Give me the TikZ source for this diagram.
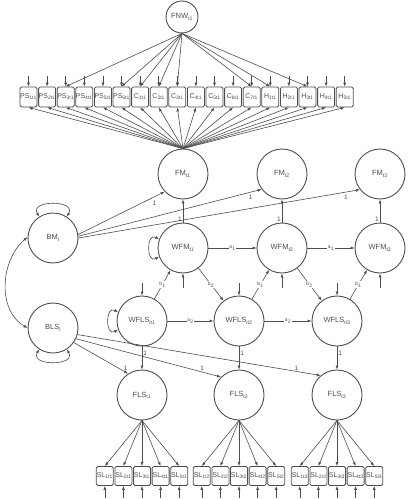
\documentclass[tikz,border=0pt]{standalone}
\usepackage{fontspec}
\setmainfont{Liberation Sans}
\usetikzlibrary{arrows.meta}

\definecolor{ink}{HTML}{4D4D4D}

\tikzset{
  latent/.style={circle,draw=ink,line width=0.9pt,minimum size=50pt,inner sep=0pt,
    text=ink,font=\fontsize{7.5}{8}\selectfont},
  indicator/.style={draw=ink,line width=0.8pt,rounded corners=1.5pt,minimum width=17pt,
    minimum height=20pt,inner sep=0pt,text=ink,font=\fontsize{7}{8}\selectfont},
  arr/.style={draw=ink,line width=0.6pt,-{Latex[length=4pt,width=3pt]}},
  dbl/.style={draw=ink,line width=0.6pt,{Latex[length=4pt,width=3pt]}-{Latex[length=4pt,width=3pt]}},
  coef/.style={text=ink,font=\fontsize{6.5}{7}\selectfont,inner sep=1pt},
  param/.style={text=ink,font=\fontsize{5}{6}\selectfont,fill=white,inner sep=0.5pt},
}

\begin{document}
\begin{tikzpicture}[x=1pt,y=-1pt]
  \useasboundingbox (0,0) rectangle (407,500);

  % latent variables
  \node[latent,minimum size=32pt] (fnw) at (182,17) {FNW\textsubscript{t1}};
  \foreach \t/\x in {1/183,2/282,3/380} {
    \node[latent] (fm\t) at (\x,174) {FM\textsubscript{t\t}};
    \node[latent] (wfm\t) at (\x,248) {WFM\textsubscript{t\t}};
    \coordinate (ewfm\t) at (\x,288);
    \draw[arr] (ewfm\t) -- (wfm\t);
  }
  \foreach \t/\x in {1/142,2/239,3/337} {
    \node[latent] (wfls\t) at (\x,321) {WFLS\textsubscript{it\t}};
    \node[latent] (fls\t) at (\x,395) {FLS\textsubscript{t\t}};
    \coordinate (ewfls\t) at (\x,283);
    \draw[arr] (ewfls\t) -- (wfls\t);
  }
  \node[latent] (bm) at (53,238) {BM\textsubscript{i}};
  \node[latent] (bls) at (53,328) {BLS\textsubscript{i}};

  % indicators of FNW and FM
  \foreach \v/\n [count=\i] in {PS/1,PS/2,PS/3,PS/4,PS/5,PS/6,C/1,C/2,C/3,C/4,C/5,C/6,C/7,H/1,H/2,H/3,H/4,H/5} {
    \node[indicator] (ind\i) at ({28.5+18.6*(\i-1)},97) {\v\textsubscript{\n t1}};
    \coordinate (eind\i) at ({28.5+18.6*(\i-1)},76);
    \draw[arr] (eind\i) -- (ind\i);
    \draw[arr] (fm1.north) -- (ind\i.south);
  }
  \foreach \i in {3,6,7,8,9,13,14,16}
    \draw[arr] (fnw.south) -- (ind\i.north);

  % indicators of FLS
  \foreach \t/\x in {1/142,2/239,3/337} {
    \foreach \j in {1,...,5} {
      \node[indicator,minimum height=19pt] (sl\t\j) at ({\x+18.6*(\j-3)},476) {SL\textsubscript{\j t\t}};
      \coordinate (esl\t\j) at ({\x+18.6*(\j-3)},498);
      \draw[arr] (esl\t\j) -- (sl\t\j);
      \draw[arr] (fls\t.south) -- (sl\t\j.north);
    }
  }

  % within-level paths
  \foreach \s/\t in {1/2,2/3} {
    \draw[arr] (wfm\s) -- (wfm\t) node[midway,param] {a\textsubscript{1}};
    \draw[arr] (wfls\s) -- (wfls\t) node[midway,param] {a\textsubscript{2}};
    \draw[arr] (wfm\s) -- (wfls\t) node[midway,param] {b\textsubscript{2}};
  }
  \foreach \t in {1,2,3} {
    \draw[arr] (wfls\t) -- (wfm\t) node[midway,param] {b\textsubscript{1}};
    \draw[arr] (wfm\t) -- (fm\t) node[pos=0.15,left,coef] {1};
    \draw[arr] (wfls\t) -- (fls\t) node[pos=0.3,right,coef] {1};
  }

  % between-level paths
  \draw[arr] (bm.8) -- (fm1.224) node[pos=0.88,below=3pt,coef] {1};
  \draw[arr] (bm.4) -- (fm2.217) node[pos=0.94,below=2pt,coef] {1};
  \draw[arr] (bm.0) -- (fm3.218) node[pos=0.95,below=2pt,coef] {1};
  \draw[arr] (bls.-35) -- (fls1.123) node[pos=0.95,above,coef] {1};
  \draw[arr] (bls.-25) -- (fls2.135) node[pos=0.87,above,coef] {1};
  \draw[arr] (bls.-15) -- (fls3.130) node[pos=0.9,above,coef] {1};

  % variances and covariance
  \draw[dbl] (bm.123) to[out=120,in=60,looseness=1.8] (bm.57);
  \draw[dbl] (bls.237) to[out=240,in=300,looseness=1.8] (bls.303);
  \draw[dbl] (wfm1.160) to[out=150,in=210,looseness=2.2] (wfm1.200);
  \draw[dbl] (wfls1.160) to[out=150,in=210,looseness=2.2] (wfls1.200);
  \draw[dbl] (bm.178) to[out=220,in=150] (bls.180);
\end{tikzpicture}
\end{document}
